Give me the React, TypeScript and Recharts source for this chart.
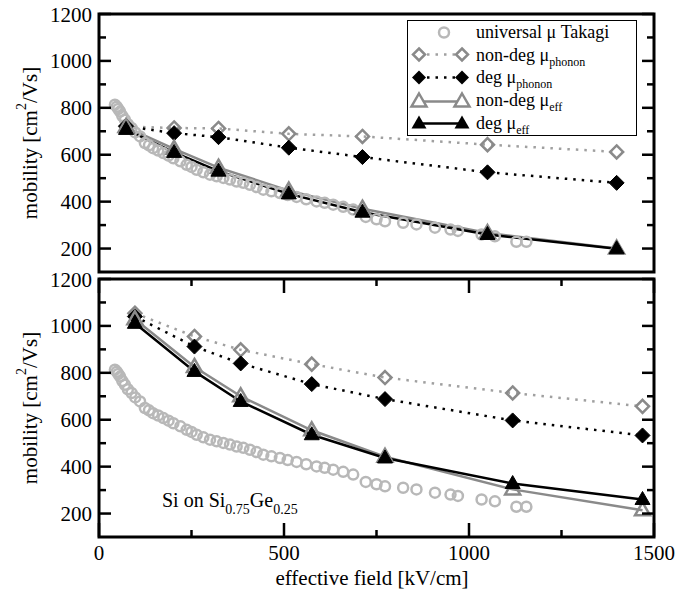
import React from 'react';
import { ComposedChart, Line, Scatter, XAxis, YAxis, ReferenceArea, Legend } from 'recharts';

const FONT = "'Liberation Serif', Tinos, 'Times New Roman', Times, 'DejaVu Serif', serif";

// Universal mobility (Takagi) — same curve drawn in both panels
const takagiField = [43, 48, 52, 57, 63, 70, 78, 88, 98, 111, 124, 135, 146, 160, 174, 188, 201, 220, 237, 250, 264, 282, 300, 318, 336, 354, 372, 390, 408, 426, 444, 466, 489, 510, 534, 560, 588, 610, 633, 660, 687, 721, 750, 773, 822, 858, 908, 950, 970, 1034, 1070, 1128, 1155];
const takagiMobility = [813, 805, 795, 784, 765, 749, 730, 714, 695, 678, 650, 640, 628, 618, 607, 596, 585, 572, 557, 548, 536, 525, 515, 508, 501, 494, 486, 480, 472, 462, 451, 444, 437, 428, 420, 410, 401, 395, 387, 378, 366, 335, 325, 316, 310, 303, 289, 281, 275, 260, 252, 229, 229];

// Top panel
const topField = [73, 203, 323, 513, 712, 1050, 1399];
const topNonDegPhonon = [720, 714, 712, 689, 678, 643, 612];
const topDegPhonon = [722, 692, 675, 630, 590, 525, 480];
const topNonDegEff = [718, 625, 545, 447, 370, 266, 200];
const topDegEff = [708, 610, 530, 433, 355, 260, 199];

// Bottom panel (Si on Si0.75Ge0.25)
const botField = [97, 258, 383, 575, 773, 1118, 1469];
const botNonDegPhonon = [1054, 955, 898, 837, 780, 714, 657];
const botDegPhonon = [1040, 912, 840, 752, 688, 597, 533];
const botNonDegEff = [1028, 825, 700, 555, 442, 303, 214];
const botDegEff = [1011, 806, 678, 536, 437, 328, 260];

const yTicks = [200, 300, 400, 500, 600, 700, 800, 900, 1000, 1100, 1200];
const xTicks = [0, 250, 500, 750, 1000, 1250, 1500];

const zip = (xs: number[], ys: number[]) => xs.map((x, i) => ({ x, y: ys[i] }));

const takagi = zip(takagiField, takagiMobility);

const GRAY = '#8a8a8a';
const GRAY_DOT = '#a0a0a0';
const LIGHT = '#b8b8b8';

const W = 679;
const LEFT = 99;
const RIGHT = 654;

const diamondPts = (cx: number, cy: number, r: number) =>
  `${cx},${cy - r} ${cx + r},${cy} ${cx},${cy + r} ${cx - r},${cy}`;
const triPts = (cx: number, cy: number) =>
  `${cx},${cy - 8} ${cx + 7.5},${cy + 5} ${cx - 7.5},${cy + 5}`;

const openDiamond = (p: any) =>
  p.cx == null ? <g key={`od${p.index}`} /> : (
    <polygon key={`od${p.index}`} points={diamondPts(p.cx, p.cy, 6.5)} fill="none" stroke={GRAY} strokeWidth={2.5} />
  );
const fullDiamond = (p: any) =>
  p.cx == null ? <g key={`fd${p.index}`} /> : (
    <polygon key={`fd${p.index}`} points={diamondPts(p.cx, p.cy, 7.5)} fill="#000" stroke="#000" strokeWidth={1} />
  );
const openTri = (p: any) =>
  p.cx == null ? <g key={`ot${p.index}`} /> : (
    <polygon key={`ot${p.index}`} points={triPts(p.cx, p.cy)} fill="none" stroke={GRAY} strokeWidth={2.5} />
  );
const fullTri = (p: any) =>
  p.cx == null ? <g key={`ft${p.index}`} /> : (
    <polygon key={`ft${p.index}`} points={triPts(p.cx, p.cy)} fill="#000" stroke="#000" strokeWidth={1} />
  );
const circleShape = (p: any) => (
  <circle cx={p.cx} cy={p.cy} r={5} fill="none" stroke={LIGHT} strokeWidth={2.5} />
);

const makeYTick = () => (props: any) => {
  const { x, y, payload } = props;
  const v = payload.value;
  const major = v % 200 === 0;
  const len = major ? 12 : 7;
  return (
    <g>
      <line x1={LEFT} x2={LEFT + len} y1={y} y2={y} stroke="#000" strokeWidth={2.5} />
      <line x1={RIGHT - len} x2={RIGHT} y1={y} y2={y} stroke="#000" strokeWidth={2.5} />
      {major && (
        <text x={x} y={y} dy="0.36em" textAnchor="end" style={{ fontFamily: FONT }} fontSize={21} fill="#000">
          {v}
        </text>
      )}
    </g>
  );
};

const makeXTick = (top: number, bottom: number) => (props: any) => {
  const { x, payload } = props;
  const v = payload.value;
  const major = v % 500 === 0;
  const len = major ? 14 : 7;
  return (
    <g>
      <line x1={x} x2={x} y1={bottom} y2={bottom - len} stroke="#000" strokeWidth={2.5} />
      <line x1={x} x2={x} y1={top} y2={top + len} stroke="#000" strokeWidth={2.5} />
      {major && (
        <text x={x} y={bottom + 23} textAnchor="middle" style={{ fontFamily: FONT }} fontSize={21} fill="#000">
          {v}
        </text>
      )}
    </g>
  );
};

const YLabel = ({ cx, cy }: { cx: number; cy: number }) => (
  <text
    x={cx}
    y={cy}
    transform={`rotate(-90 ${cx} ${cy})`}
    textAnchor="middle"
    dominantBaseline="central"
    style={{ fontFamily: FONT }}
    fontSize={21}
    fill="#000"
  >
    mobility [cm
    <tspan dy={-9} fontSize={14}>2</tspan>
    <tspan dy={9}>/Vs]</tspan>
  </text>
);

const Sym = ({ kind }: { kind: string }) => {
  const y = 11.5;
  const a = 11;
  const b = 54;
  if (kind === 'circle') {
    return (
      <svg width={68} height={23} style={{ flex: 'none' }}>
        <circle cx={36} cy={y} r={5} fill="none" stroke={LIGHT} strokeWidth={2.5} />
      </svg>
    );
  }
  if (kind === 'od') {
    return (
      <svg width={68} height={23} style={{ flex: 'none' }}>
        <line x1={a + 8} x2={b - 7} y1={y} y2={y} stroke={GRAY_DOT} strokeWidth={2.5} strokeDasharray="2.5 6" />
        <polygon points={diamondPts(a, y, 6)} fill="none" stroke={GRAY} strokeWidth={2.5} />
        <polygon points={diamondPts(b, y, 6)} fill="none" stroke={GRAY} strokeWidth={2.5} />
      </svg>
    );
  }
  if (kind === 'fd') {
    return (
      <svg width={68} height={23} style={{ flex: 'none' }}>
        <line x1={a + 8} x2={b - 7} y1={y} y2={y} stroke="#000" strokeWidth={2.5} strokeDasharray="2.5 6" />
        <polygon points={diamondPts(a, y, 7)} fill="#000" />
        <polygon points={diamondPts(b, y, 7)} fill="#000" />
      </svg>
    );
  }
  if (kind === 'ot') {
    return (
      <svg width={68} height={23} style={{ flex: 'none' }}>
        <line x1={a} x2={b} y1={y + 1} y2={y + 1} stroke={GRAY} strokeWidth={2.5} />
        <polygon points={triPts(a, y + 1)} fill="#fff" stroke={GRAY} strokeWidth={2.5} />
        <polygon points={triPts(b, y + 1)} fill="#fff" stroke={GRAY} strokeWidth={2.5} />
      </svg>
    );
  }
  return (
    <svg width={68} height={23} style={{ flex: 'none' }}>
      <line x1={a} x2={b} y1={y + 1} y2={y + 1} stroke="#000" strokeWidth={2.5} />
      <polygon points={triPts(a, y + 1)} fill="#000" />
      <polygon points={triPts(b, y + 1)} fill="#000" />
    </svg>
  );
};

const legendRows: { kind: string; main: string; sub?: string }[] = [
  { kind: 'circle', main: 'universal \u03bc Takagi' },
  { kind: 'od', main: 'non-deg \u03bc', sub: 'phonon' },
  { kind: 'fd', main: 'deg \u03bc', sub: 'phonon' },
  { kind: 'ot', main: 'non-deg \u03bc', sub: 'eff' },
  { kind: 'ft', main: 'deg \u03bc', sub: 'eff' },
];

const LegendBox = () => (
  <div
    style={{
      width: 230,
      height: 116,
      border: '1.5px solid #000',
      boxSizing: 'border-box',
      background: '#fff',
      fontFamily: FONT,
      fontSize: 18,
      color: '#000',
    }}
  >
    {legendRows.map((r, i) => (
      <div key={i} style={{ display: 'flex', alignItems: 'center', height: 22.6, lineHeight: '20px', whiteSpace: 'nowrap' }}>
        <Sym kind={r.kind} />
        <span style={{ lineHeight: '16px' }}>
          {r.main}
          {r.sub && <span style={{ fontSize: 12, lineHeight: '12px', position: 'relative', top: 5 }}>{r.sub}</span>}
        </span>
      </div>
    ))}
  </div>
);

const seriesEls = (field: number[], ndp: number[], dp: number[], nde: number[], de: number[]) => [
  <Scatter key="tak" data={takagi} dataKey="y" shape={circleShape} isAnimationActive={false} />,
  <Line key="ndp" data={zip(field, ndp)} dataKey="y" type="linear" stroke={GRAY_DOT} strokeWidth={2.5} strokeDasharray="2.5 6" dot={openDiamond} activeDot={false} isAnimationActive={false} />,
  <Line key="dp" data={zip(field, dp)} dataKey="y" type="linear" stroke="#000" strokeWidth={2.5} strokeDasharray="2.5 6" dot={fullDiamond} activeDot={false} isAnimationActive={false} />,
  <Line key="nde" data={zip(field, nde)} dataKey="y" type="linear" stroke={GRAY} strokeWidth={2.5} dot={openTri} activeDot={false} isAnimationActive={false} />,
  <Line key="de" data={zip(field, de)} dataKey="y" type="linear" stroke="#000" strokeWidth={2.5} dot={fullTri} activeDot={false} isAnimationActive={false} />,
];

const TOP_H = 280;
// bottom chart: global top 260, plot 279..537 global -> 19..277 local
const BOT_TOP = 260;
const BOT_H = 329;
const BOT_PLOT_TOP = 19;
const BOT_PLOT_BOTTOM = 277;

export default function App() {
  return (
    <div style={{ position: 'absolute', left: 0, top: 0, width: W, height: 589, background: '#fff', fontFamily: FONT }}>
      <div style={{ position: 'absolute', left: 0, top: 0 }}>
        <ComposedChart width={W} height={TOP_H} margin={{ top: 14, right: W - RIGHT, bottom: 8, left: 0 }}>
          <XAxis dataKey="x" type="number" domain={[0, 1500]} hide allowDataOverflow />
          <YAxis
            dataKey="y"
            type="number"
            domain={[100, 1200]}
            ticks={yTicks}
            width={LEFT}
            axisLine={false}
            tickLine={false}
            tickSize={0}
            tickMargin={7}
            tick={makeYTick()}
            interval={0}
            allowDataOverflow
          />
          {seriesEls(topField, topNonDegPhonon, topDegPhonon, topNonDegEff, topDegEff)}
          <ReferenceArea x1={0} x2={1500} y1={100} y2={1200} fill="none" stroke="#000" strokeWidth={3} ifOverflow="visible" />
          <YLabel cx={30} cy={143} />
          <Legend
            layout="vertical"
            align="center"
            verticalAlign="middle"
            content={() => <LegendBox />}
            wrapperStyle={{ left: 407, top: 20, width: 230, height: 116 }}
          />
        </ComposedChart>
      </div>
      <div style={{ position: 'absolute', left: 0, top: BOT_TOP }}>
        <ComposedChart width={W} height={BOT_H} margin={{ top: BOT_PLOT_TOP, right: W - RIGHT, bottom: 0, left: 0 }}>
          <XAxis
            dataKey="x"
            type="number"
            domain={[0, 1500]}
            ticks={xTicks}
            height={BOT_H - BOT_PLOT_BOTTOM}
            axisLine={false}
            tickLine={false}
            tickSize={0}
            interval={0}
            tick={makeXTick(BOT_PLOT_TOP, BOT_PLOT_BOTTOM)}
            allowDataOverflow
          />
          <YAxis
            dataKey="y"
            type="number"
            domain={[100, 1200]}
            ticks={yTicks}
            width={LEFT}
            axisLine={false}
            tickLine={false}
            tickSize={0}
            tickMargin={7}
            tick={makeYTick()}
            interval={0}
            allowDataOverflow
          />
          {seriesEls(botField, botNonDegPhonon, botDegPhonon, botNonDegEff, botDegEff)}
          <ReferenceArea x1={0} x2={1500} y1={100} y2={1200} fill="none" stroke="#000" strokeWidth={3} ifOverflow="visible" />
          <YLabel cx={30} cy={148} />
          <text x={162} y={247} style={{ fontFamily: FONT }} fontSize={20} fill="#000">
            Si on Si
            <tspan dy={7} fontSize={14}>0.75</tspan>
            <tspan dy={-7}>Ge</tspan>
            <tspan dy={7} fontSize={14}>0.25</tspan>
          </text>
          <text x={372} y={325} textAnchor="middle" style={{ fontFamily: FONT }} fontSize={21} fill="#000">
            effective field [kV/cm]
          </text>
        </ComposedChart>
      </div>
    </div>
  );
}
